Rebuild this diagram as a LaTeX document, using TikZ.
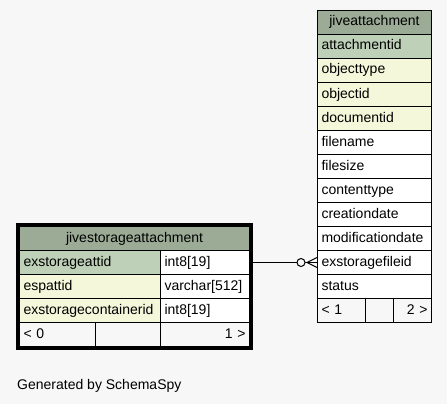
\documentclass[tikz,border=0pt]{standalone}
\usepackage{fontspec}
\setmainfont{Liberation Sans}
\usetikzlibrary{fit}
\definecolor{pageGrey}{HTML}{F7F7F7}
\definecolor{headGreen}{HTML}{9BAB96}
\definecolor{keyGreen}{HTML}{BED1B8}
\definecolor{indexYellow}{HTML}{F4F7DA}

\tikzset{
  cell/.style={draw=black,line width=1pt,rectangle,anchor=north west,inner xsep=4pt,inner ysep=0pt,
    minimum height=24pt,text height=10pt,text depth=3pt,align=left,font=\fontsize{14}{16}\selectfont},
  headcell/.style={cell,fill=headGreen,align=center},
  keycell/.style={cell,fill=keyGreen},
  indexcell/.style={cell,fill=indexYellow},
  plaincell/.style={cell,fill=white},
  footcell/.style={cell,fill=pageGrey},
}

\begin{document}
\begin{tikzpicture}[x=1pt,y=-1pt]
\path[use as bounding box,fill=pageGrey] (0,0) rectangle (447,404);

% jiveattachment
\node[headcell,text width=106pt] (jahead) at (317,10) {jiveattachment};
\node[keycell,text width=106pt] (ja1) at (317,34) {attachmentid};
\node[indexcell,text width=106pt] (ja2) at (317,58) {objecttype};
\node[indexcell,text width=106pt] (ja3) at (317,82) {objectid};
\node[indexcell,text width=106pt] (ja4) at (317,106) {documentid};
\node[plaincell,text width=106pt] (ja5) at (317,130) {filename};
\node[plaincell,text width=106pt] (ja6) at (317,154) {filesize};
\node[plaincell,text width=106pt] (ja7) at (317,178) {contenttype};
\node[plaincell,text width=106pt] (ja8) at (317,202) {creationdate};
\node[plaincell,text width=106pt] (ja9) at (317,226) {modificationdate};
\node[plaincell,text width=106pt] (ja10) at (317,250) {exstoragefileid};
\node[plaincell,text width=106pt] (ja11) at (317,274) {status};
\node[footcell,text width=40pt] (jaf1) at (317,298) {< 1};
\node[footcell,text width=20pt] (jaf2) at (365,298) {};
\node[footcell,text width=30pt,align=right] (jaf3) at (393,298) {2 >};

% jivestorageattachment - table mise en avant
\node[headcell,text width=222pt] (jsahead) at (19,226) {jivestorageattachment};
\node[keycell,text width=133pt] (jsa1n) at (19,250) {exstorageattid};
\node[plaincell,text width=81pt] (jsa1t) at (160,250) {int8[19]};
\node[indexcell,text width=133pt] (jsa2n) at (19,274) {espattid};
\node[plaincell,text width=81pt] (jsa2t) at (160,274) {varchar[512]};
\node[indexcell,text width=133pt] (jsa3n) at (19,298) {exstoragecontainerid};
\node[plaincell,text width=81pt] (jsa3t) at (160,298) {int8[19]};
\node[footcell,text width=68pt] (jsaf1) at (19,322) {< 0};
\node[footcell,text width=57pt] (jsaf2) at (95,322) {};
\node[footcell,text width=81pt,align=right] (jsaf3) at (160,322) {1 >};
\node[draw=black,line width=3pt,inner sep=1.5pt,fit=(jsahead)(jsaf3)] (jsaframe) {};

% lien exstorageattid -> exstoragefileid
\draw[line width=1pt] (jsa1t.east) -- (ja10.west);
\node[circle,draw=black,fill=pageGrey,line width=1pt,minimum size=8pt,inner sep=0pt] (fkring) at ([xshift=-16pt]ja10.west) {};
\draw[line width=1pt] ([yshift=5pt]ja10.west) -- ([xshift=-10pt]ja10.west) -- ([yshift=-5pt]ja10.west);

\node[anchor=base west,inner sep=0pt,font=\fontsize{14}{16}\selectfont] (credit) at (17,389) {Generated by SchemaSpy};
\end{tikzpicture}
\end{document}
